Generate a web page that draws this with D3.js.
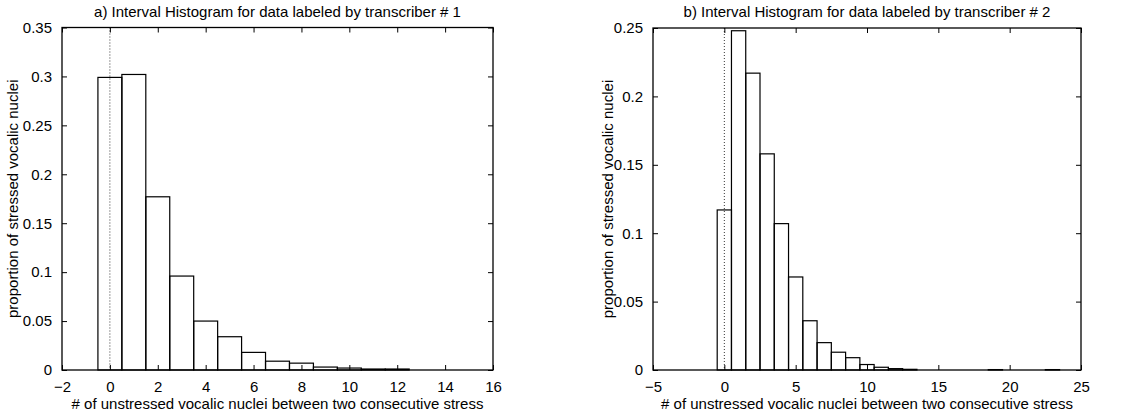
<!DOCTYPE html>
<html>
<head>
<meta charset="utf-8">
<script src="https://cdn.jsdelivr.net/npm/d3@7"></script>
<style>
  body { margin: 0; background: #fff; }
  text { font-family: "Liberation Sans", Arial, Helvetica, sans-serif; fill: #000; }
</style>
</head>
<body>
<svg id="chart" width="1134" height="417"></svg>
<script>
// histogram a) transcriber 1
var binsA = [0, 1, 2, 3, 4, 5, 6, 7, 8, 9, 10, 11, 12];
var valuesA = [0.299, 0.302, 0.177, 0.096, 0.050, 0.034, 0.018, 0.009, 0.007, 0.003, 0.002, 0.001, 0.001];
var xTicksA = [-2, 0, 2, 4, 6, 8, 10, 12, 14, 16];
var yTicksA = [0, 0.05, 0.1, 0.15, 0.2, 0.25, 0.3, 0.35];

// histogram b) transcriber 2
var binsB = [0, 1, 2, 3, 4, 5, 6, 7, 8, 9, 10, 11, 12, 13, 19, 23];
var valuesB = [0.117, 0.248, 0.217, 0.158, 0.107, 0.068, 0.036, 0.020, 0.013, 0.009, 0.004, 0.002, 0.001, 0.0005, 0.0003, 0.0003];
var xTicksB = [-5, 0, 5, 10, 15, 20, 25];
var yTicksB = [0, 0.05, 0.1, 0.15, 0.2, 0.25];

var titles = ["a) Interval Histogram for data labeled by transcriber # 1",
              "b) Interval Histogram for data labeled by transcriber # 2"];
var xLabel = "# of unstressed vocalic nuclei between two consecutive stress";
var yLabel = "proportion of stressed vocalic nuclei";

var svg = d3.select("#chart");
var fmt = function(d) { return String(+d.toFixed(2)); };

function drawPanel(p) {
  var x = d3.scaleLinear().domain(p.xdom).range([p.left, p.right]);
  var y = d3.scaleLinear().domain(p.ydom).range([p.bottom, p.top]);
  var g = svg.append("g");

  // bars (unfilled boxes)
  g.selectAll("rect.bar")
    .data(p.bins.map(function(b, i) { return {b: b, v: p.values[i]}; }))
    .enter().append("rect")
      .attr("class", "bar")
      .attr("x", function(d) { return x(d.b - 0.5); })
      .attr("width", function(d) { return x(d.b + 0.5) - x(d.b - 0.5); })
      .attr("y", function(d) { return y(d.v); })
      .attr("height", function(d) { return y(0) - y(d.v); })
      .attr("fill", "none")
      .attr("stroke", "#000")
      .attr("stroke-width", 1.2);

  // dotted zero line
  g.append("line")
    .attr("x1", x(0)).attr("x2", x(0))
    .attr("y1", p.top).attr("y2", p.bottom)
    .attr("stroke", "#000")
    .attr("stroke-width", 0.8)
    .attr("stroke-dasharray", "1,2");

  // axes with inward ticks
  g.append("g").attr("transform", "translate(0," + p.bottom + ")")
    .call(d3.axisBottom(x).tickValues(p.xticks).tickSize(-5).tickSizeOuter(0).tickPadding(11).tickFormat(d3.format("d")));
  g.append("g").attr("transform", "translate(" + p.left + ",0)")
    .call(d3.axisLeft(y).tickValues(p.yticks).tickSize(-5).tickSizeOuter(0).tickPadding(10).tickFormat(fmt));
  g.append("g").attr("transform", "translate(0," + p.top + ")")
    .call(d3.axisTop(x).tickValues(p.xticks).tickSize(-5).tickSizeOuter(0).tickFormat(""));
  g.append("g").attr("transform", "translate(" + p.right + ",0)")
    .call(d3.axisRight(y).tickValues(p.yticks).tickSize(-5).tickSizeOuter(0).tickFormat(""));

  g.selectAll(".domain").remove();
  g.selectAll(".tick line").attr("stroke", "#000").attr("stroke-width", 1);
  g.selectAll(".tick text").style("font-size", "15px").attr("font-family", null);

  // frame
  g.append("rect")
    .attr("x", p.left).attr("y", p.top)
    .attr("width", p.right - p.left).attr("height", p.bottom - p.top)
    .attr("fill", "none").attr("stroke", "#000").attr("stroke-width", 1.3);

  // title and labels
  g.append("text")
    .attr("x", (p.left + p.right) / 2).attr("y", 17)
    .attr("text-anchor", "middle").style("font-size", "15px")
    .text(p.title);
  g.append("text")
    .attr("x", (p.left + p.right) / 2).attr("y", 409)
    .attr("text-anchor", "middle").style("font-size", "15px")
    .text(xLabel);
  g.append("text")
    .attr("transform", "translate(" + p.ylabx + "," + ((p.top + p.bottom) / 2) + ") rotate(-90)")
    .attr("text-anchor", "middle").style("font-size", "15px")
    .text(yLabel);
}

drawPanel({
  bins: binsA, values: valuesA, xticks: xTicksA, yticks: yTicksA,
  xdom: [-2, 16], ydom: [0, 0.35],
  left: 62, right: 493, top: 27.5, bottom: 370,
  ylabx: 18, title: titles[0]
});

drawPanel({
  bins: binsB, values: valuesB, xticks: xTicksB, yticks: yTicksB,
  xdom: [-5, 25], ydom: [0, 0.25],
  left: 653, right: 1081, top: 28, bottom: 370,
  ylabx: 613, title: titles[1]
});
</script>
</body>
</html>
